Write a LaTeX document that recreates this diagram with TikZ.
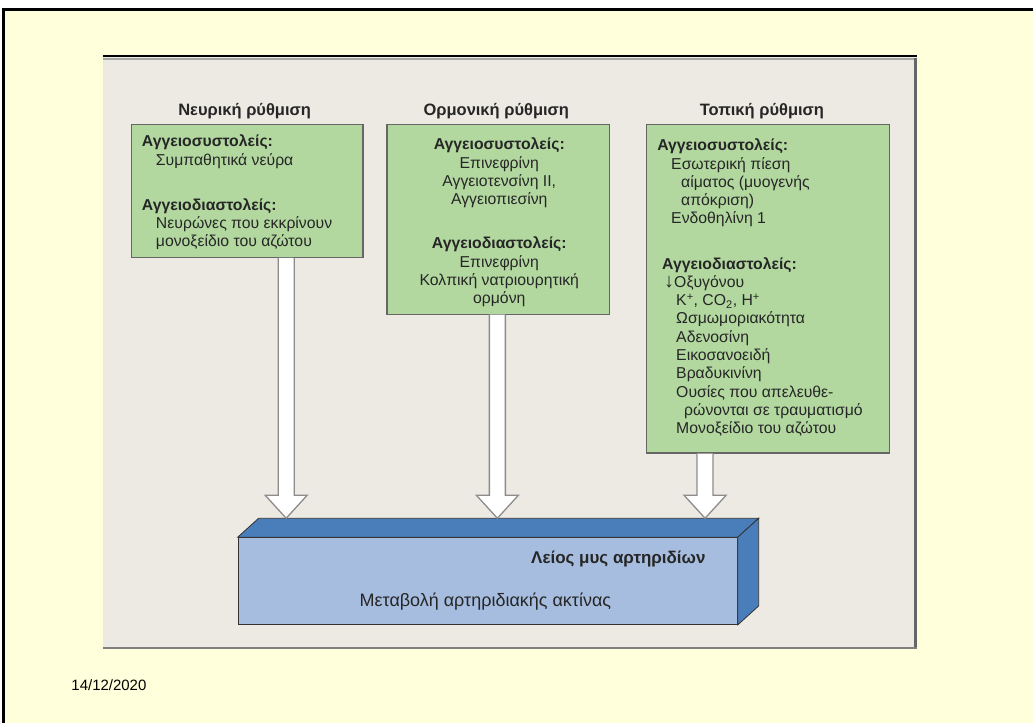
\documentclass[tikz,border=0pt]{standalone}
\usepackage{fontspec}
\setmainfont{Liberation Sans}
\usetikzlibrary{calc}

\definecolor{slideyellow}{HTML}{FFFFDC}
\definecolor{figgrey}{HTML}{EDEAE3}
\definecolor{boxgreen}{HTML}{B2D8A0}
\definecolor{musclefront}{HTML}{A6BDDF}
\definecolor{muscletop}{HTML}{4A7EBA}

\tikzset{
  greenbox/.style={draw=black!60, line width=1.2pt, fill=boxgreen, inner sep=0pt, anchor=north west},
  boxtext/.style={inner sep=0pt, anchor=north west, align=left, font=\fontsize{15.8}{18.3}\selectfont, text=black!85},
  headtext/.style={font=\fontsize{16.5}{18}\selectfont\bfseries, text=black!85},
  blockarrow/.style={draw=black!45, line width=1.3pt, fill=white, line join=miter},
}

% hollow arrow from a start point down to a tip
\newcommand\hollowarrow[2]{%
  \draw[blockarrow] ($(#1)+(-\shaftw,0)$) -- ($(#2)+(-\shaftw,-\headh)$)
    -- ($(#2)+(-\headw,-\headh)$) -- (#2) -- ($(#2)+(\headw,-\headh)$)
    -- ($(#2)+(\shaftw,-\headh)$) -- ($(#1)+(\shaftw,0)$);}

\begin{document}
\begin{tikzpicture}[x=1pt,y=-1pt]

% Parameters for drawing only
\def\shaftw{8}
\def\headw{21}
\def\headh{23}
\def\dx{21}
\def\dy{19}

% Page and slide
\fill[white] (0,0) rectangle (1034,724);
\fill[slideyellow] (4,10) rectangle (1034,724);
\draw[line width=3pt] (4,724) -- (4,10) -- (1034,10);
\useasboundingbox (0,0) rectangle (1034,724);

% Figure background
\fill[figgrey] (103,57) rectangle (918,650);
\draw[line width=1.5pt] (103,56) -- (918,56);
\draw[black!35, line width=2pt] (103,59) -- (916,59);
\draw[black!60, line width=3pt] (916.5,58) -- (916.5,650);
\draw[black!50, line width=2pt] (103,649) -- (918,649);

% Titles
\node[headtext] (neurtitle) at (245,111) {Νευρική ρύθμιση};
\node[headtext] (hormtitle) at (497,111) {Ορμονική ρύθμιση};
\node[headtext] (loctitle) at (763,111) {Τοπική ρύθμιση};

% Smooth muscle block
\node[draw=black!80, line width=0.8pt, fill=musclefront, inner sep=0pt, anchor=north west,
  minimum width=500pt, minimum height=87pt] (muscle) at (238,538) {};
\draw[draw=black!80, line width=0.8pt, fill=muscletop] (muscle.north west) -- ++(\dx,-\dy)
  -- ($(muscle.north east)+(\dx,-\dy)$) -- (muscle.north east) -- cycle;
\draw[draw=black!80, line width=0.8pt, fill=muscletop] (muscle.north east) -- ++(\dx,-\dy)
  -- ($(muscle.south east)+(\dx,-\dy)$) -- (muscle.south east) -- cycle;
\coordinate (muscleback) at ($(muscle.north west)+(\dx,-\dy)$);
\node[headtext, font=\fontsize{17}{19}\selectfont\bfseries, anchor=east] (muscletitle) at (710,560) {Λείος μυς αρτηριδίων};
\node[boxtext, font=\fontsize{18}{20}\selectfont, anchor=west] (muscletxt) at (360,602) {Μεταβολή αρτηριδιακής ακτίνας};

% Boxes
\node[greenbox, minimum width=232pt, minimum height=133pt] (neur) at (131,124) {};
\node[greenbox, minimum width=223pt, minimum height=190pt] (horm) at (387,124) {};
\node[greenbox, minimum width=243pt, minimum height=329pt] (loc) at (647,124) {};

% Arrows
\coordinate (a1s) at ($(neur.south)+(39,0)$);
\coordinate (a2s) at ($(horm.south)+(-1,0)$);
\coordinate (a3s) at ($(loc.south)+(-63,0)$);
\coordinate (a1t) at (a1s |- muscleback);
\coordinate (a2t) at (a2s |- muscleback);
\coordinate (a3t) at (a3s |- muscleback);
\hollowarrow{a1s}{a1t}
\hollowarrow{a2s}{a2t}
\hollowarrow{a3s}{a3t}

% Box texts
\node[boxtext] (neurtxt) at (142,135)
{\textbf{Αγγειοσυστολείς:}\\
\hspace*{14pt}Συμπαθητικά νεύρα\\[27pt]
\textbf{Αγγειοδιαστολείς:}\\
\hspace*{14pt}Νευρώνες που εκκρίνουν\\
\hspace*{14pt}μονοξείδιο του αζώτου};

\node[boxtext, align=center, anchor=north] (hormtxt) at (500,138)
{\textbf{Αγγειοσυστολείς:}\\
Επινεφρίνη\\
Αγγειοτενσίνη ΙΙ,\\
Αγγειοπιεσίνη\\[26pt]
\textbf{Αγγειοδιαστολείς:}\\
Επινεφρίνη\\
Κολπική νατριουρητική\\
ορμόνη};

\node[boxtext] (loctxt) at (658,139)
{\textbf{Αγγειοσυστολείς:}\\
\hspace*{14pt}Εσωτερική πίεση\\
\hspace*{24pt}αίματος (μυογενής\\
\hspace*{24pt}απόκριση)\\
\hspace*{14pt}Ενδοθηλίνη 1\\[27pt]
\hspace*{5pt}\textbf{Αγγειοδιαστολείς:}\\
\hspace*{7pt}{\fontsize{20}{18.3}\selectfont\textbf{↓}}Οξυγόνου\\
\hspace*{19pt}K\textsuperscript{+}, CO\textsubscript{2}, H\textsuperscript{+}\\
\hspace*{19pt}Ωσμωμοριακότητα\\
\hspace*{19pt}Αδενοσίνη\\
\hspace*{19pt}Εικοσανοειδή\\
\hspace*{19pt}Βραδυκινίνη\\
\hspace*{19pt}Ουσίες που απελευθε-\\
\hspace*{27pt}ρώνονται σε τραυματισμό\\
\hspace*{19pt}Μονοξείδιο του αζώτου};

% Date
\node[font=\fontsize{15}{17}\selectfont, anchor=west] (date) at (68,686) {14/12/2020};

\end{tikzpicture}
\end{document}
